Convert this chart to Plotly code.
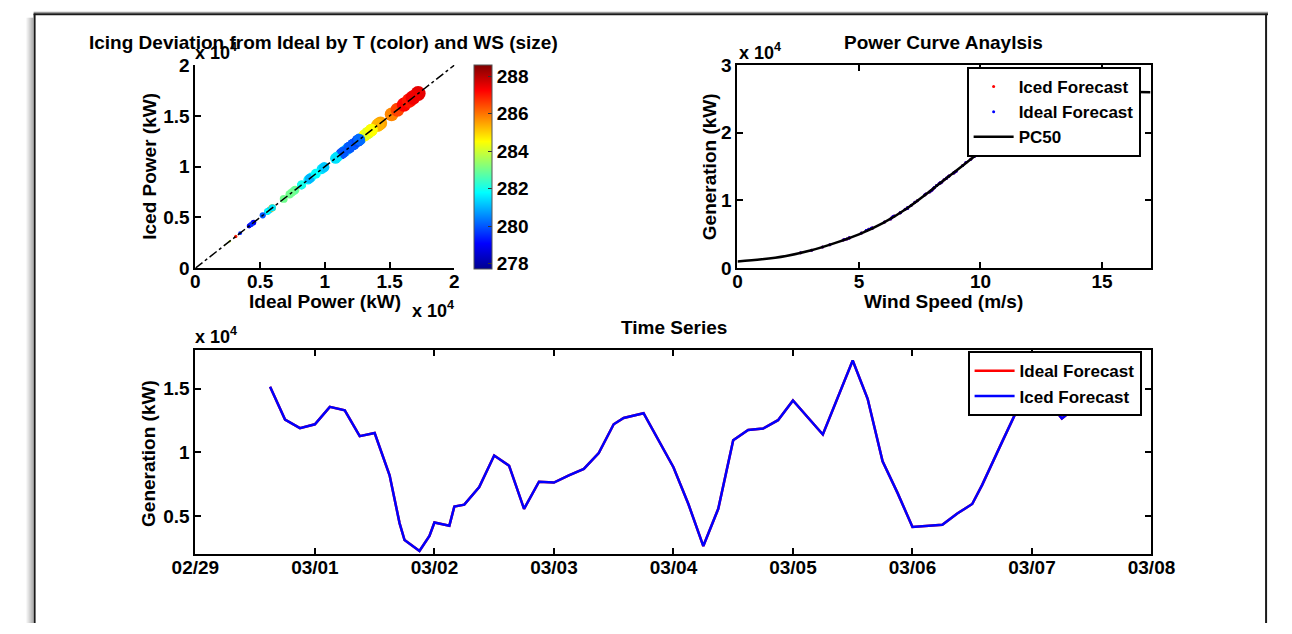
import numpy as np
import plotly.graph_objects as go

W, H = 1292, 634

# ---------------- data ----------------
ts_time = [
    "2016-02-29 15:00", "2016-02-29 18:00", "2016-02-29 21:00",
    "2016-03-01 00:00", "2016-03-01 03:00", "2016-03-01 06:00", "2016-03-01 09:00",
    "2016-03-01 12:00", "2016-03-01 15:00", "2016-03-01 17:00", "2016-03-01 18:00",
    "2016-03-01 21:00", "2016-03-01 23:00",
    "2016-03-02 00:00", "2016-03-02 03:00", "2016-03-02 04:00", "2016-03-02 06:00",
    "2016-03-02 09:00", "2016-03-02 12:00", "2016-03-02 15:00", "2016-03-02 18:00",
    "2016-03-02 21:00",
    "2016-03-03 00:00", "2016-03-03 03:00", "2016-03-03 06:00", "2016-03-03 09:00",
    "2016-03-03 12:00", "2016-03-03 14:00", "2016-03-03 18:00",
    "2016-03-04 00:00", "2016-03-04 03:00", "2016-03-04 06:00", "2016-03-04 09:00",
    "2016-03-04 12:00", "2016-03-04 15:00", "2016-03-04 18:00", "2016-03-04 21:00",
    "2016-03-05 00:00", "2016-03-05 06:00", "2016-03-05 12:00", "2016-03-05 15:00",
    "2016-03-05 18:00", "2016-03-05 21:00",
    "2016-03-06 00:00", "2016-03-06 06:00", "2016-03-06 09:00", "2016-03-06 12:00",
    "2016-03-06 14:00", "2016-03-06 18:00", "2016-03-06 21:00",
    "2016-03-07 00:00", "2016-03-07 03:00", "2016-03-07 06:00", "2016-03-07 09:00",
]
ts_iced = [
    15150, 12570, 11900,
    12200, 13570, 13300, 11270,
    11520, 8200, 4450, 3120,
    2270, 3450,
    4500, 4250, 5750, 5900,
    7280, 9750, 8950, 5570,
    7700,
    7630, 8200, 8700, 9950,
    12200, 12700, 13070,
    8830, 5950, 2650, 5570,
    10950, 11750, 11870, 12520,
    14070, 11400, 17200, 14200,
    9300, 6820,
    4150, 4320, 5200, 5950,
    7450, 10820, 13320,
    14300, 14100, 12650, 13600,
]
ts_ideal = list(ts_iced)  # ideal forecast coincides with the iced one

temp_K = [
    285.8, 280.0, 280.0,
    279.8, 284.3, 284.0, 279.5,
    281.0, 281.5, 279.0, 287.0,
    284.0, 279.5,
    279.0, 279.0, 281.5, 285.5,
    283.0, 281.5, 281.8, 280.5,
    283.2,
    282.8, 282.0, 281.6, 281.2,
    280.0, 280.3, 284.5,
    281.0, 285.0, 284.0, 281.8,
    281.5, 281.0, 280.0, 279.8,
    285.0, 280.0, 287.5, 285.5,
    281.8, 283.0,
    279.0, 279.5, 280.0, 281.5,
    283.0, 281.5, 284.2,
    285.5, 285.3, 280.2, 284.5,
]
wind_ms = [
    9.27, 8.35, 8.1,
    8.2, 8.7, 8.6, 7.9,
    8.0, 6.7, 4.6, 3.5,
    2.6, 3.8,
    4.6, 4.4, 5.4, 5.5,
    6.3, 7.3, 7.0, 5.3,
    6.45,
    6.4, 6.7, 6.9, 7.4,
    8.2, 8.4, 8.5,
    7.0, 5.55, 3.05, 5.3,
    7.75, 8.05, 8.1, 8.3,
    8.9, 7.95, 10.0, 8.95,
    7.15, 6.05,
    4.35, 4.5, 5.1, 5.55,
    6.35, 7.7, 8.6,
    9.0, 8.9, 8.35, 8.7,
]

# extra hourly points seen in the red cluster of the deviation scatter
extra_power = [15600, 16100, 16500, 16800]
extra_temp = [286.5, 287.2, 287.0, 287.4]
extra_wind = [9.4, 9.6, 9.75, 9.85]

# PC50 reference power curve
pc_ws = [0, 1, 2, 3, 4, 5, 6, 7, 8, 9, 10, 11, 12, 13, 14, 15, 16, 17]
pc_gen = [1000, 1300, 1800, 2600, 3700, 5000, 6700, 8900, 11600, 14400,
          17200, 19800, 22100, 23900, 25100, 25800, 26000, 26000]

temp_ticks = [278, 280, 282, 284, 286, 288]

# ---------------- derived collections ----------------
sc_ideal = ts_ideal + extra_power
sc_iced = ts_iced + extra_power
sc_temp = temp_K + extra_temp
sc_wind = wind_ms + extra_wind
sc_size = 1.8 * np.array(sc_wind) - 3.0

FONT = "Liberation Sans, Arial, Helvetica, sans-serif"
FS = 19
LFS = 17

jet = [[0.0, "#00008F"], [0.125, "#0000FF"], [0.375, "#00FFFF"],
       [0.625, "#FFFF00"], [0.875, "#FF0000"], [1.0, "#800000"]]


def fx(p):
    return p / W


def fy(p):
    return 1 - p / H


def bold(size):
    return dict(size=size, family=FONT, color="black", weight="bold")


fig = go.Figure()

# ---- deviation scatter ----
fig.add_trace(go.Scatter(
    x=sc_ideal, y=sc_iced, mode="markers", xaxis="x", yaxis="y",
    showlegend=False,
    marker=dict(size=sc_size, color=sc_temp, colorscale=jet,
                cmin=277.7, cmax=288.6, line=dict(width=0), opacity=1,
                colorbar=dict(
                    x=fx(467), xanchor="left", y=fy(57), yanchor="top",
                    len=211 / H, lenmode="fraction",
                    thickness=18, thicknessmode="pixels",
                    outlinecolor="#555", outlinewidth=1,
                    ticks="inside", ticklen=4, tickcolor="#333",
                    tickvals=temp_ticks, xpad=0, ypad=0,
                    tickfont=bold(FS),
                )),
))
fig.add_trace(go.Scatter(
    x=[0, 20000], y=[0, 20000], mode="lines", xaxis="x", yaxis="y",
    showlegend=False, line=dict(color="black", width=1.5, dash="dashdot"),
))

# ---- power curve ----
fig.add_trace(go.Scatter(
    x=sc_wind, y=sc_iced, mode="markers", xaxis="x2", yaxis="y2",
    name="Iced Forecast", legend="legend",
    marker=dict(color="#FF0000", size=3),
))
fig.add_trace(go.Scatter(
    x=sc_wind, y=sc_ideal, mode="markers", xaxis="x2", yaxis="y2",
    name="Ideal Forecast", legend="legend",
    marker=dict(color="#0000FF", size=3),
))
fig.add_trace(go.Scatter(
    x=pc_ws, y=pc_gen, mode="lines", xaxis="x2", yaxis="y2",
    name="PC50", legend="legend", line=dict(color="black", width=2.5, shape="spline"),
))

# ---- time series ----
fig.add_trace(go.Scatter(
    x=ts_time, y=ts_ideal, mode="lines", xaxis="x3", yaxis="y3",
    name="Ideal Forecast", legend="legend2", line=dict(color="#FF0000", width=2.5),
))
fig.add_trace(go.Scatter(
    x=ts_time, y=ts_iced, mode="lines", xaxis="x3", yaxis="y3",
    name="Iced Forecast", legend="legend2", line=dict(color="#0000FF", width=2.5),
))

axis_common = dict(
    showline=True, linecolor="black", linewidth=2, ticks="inside", ticklen=6,
    tickwidth=1.5, tickcolor="black", showgrid=False, zeroline=False,
    tickfont=bold(FS),
)
xstand = dict(ticklabelstandoff=-5)

fig.update_layout(
    autosize=True, margin=dict(l=0, r=0, t=0, b=0),
    paper_bgcolor="white", plot_bgcolor="white",
    font=bold(FS),
    xaxis=dict(domain=[fx(178), fx(447)], range=[0, 20000], anchor="y",
               tickvals=[0, 5000, 10000, 15000, 20000],
               ticktext=["0", "0.5", "1", "1.5", "2"], **axis_common, **xstand),
    yaxis=dict(domain=[fy(267), fy(57)], range=[0, 20000], anchor="x",
               tickvals=[0, 5000, 10000, 15000, 20000],
               ticktext=["0", "0.5", "1", "1.5", "2"], **axis_common),
    xaxis2=dict(domain=[fx(741), fx(1170)], range=[0, 17], anchor="y2",
                tickvals=[0, 5, 10, 15], mirror="ticks", **axis_common, **xstand),
    yaxis2=dict(domain=[fy(267), fy(57)], range=[0, 30000], anchor="x2",
                tickvals=[0, 10000, 20000, 30000], ticktext=["0", "1", "2", "3"],
                mirror="ticks", **axis_common),
    xaxis3=dict(domain=[fx(178), fx(1171)], anchor="y3", type="date",
                range=["2016-02-29", "2016-03-08"], tick0="2016-02-29",
                dtick=86400000, tickformat="%m/%d", mirror="ticks",
                **axis_common, **xstand),
    yaxis3=dict(domain=[fy(563), fy(352)], range=[2000, 18000], anchor="x3",
                tickvals=[5000, 10000, 15000], ticktext=["0.5", "1", "1.5"],
                mirror="ticks", **axis_common),
    legend=dict(x=fx(979), y=fy(59), xanchor="left", yanchor="top",
                bgcolor="white", bordercolor="black", borderwidth=2,
                font=bold(LFS), itemwidth=40, tracegroupgap=0),
    legend2=dict(x=fx(980), y=fy(353), xanchor="left", yanchor="top",
                 bgcolor="white", bordercolor="black", borderwidth=2,
                 font=bold(LFS), itemwidth=40, tracegroupgap=0),
)


def ann(text, x, y, xanchor="center", yanchor="middle", angle=0, size=FS):
    fig.add_annotation(text=text, x=fx(x), y=fy(y), xref="paper", yref="paper",
                       xanchor=xanchor, yanchor=yanchor, textangle=angle,
                       showarrow=False, font=bold(size))


# multipliers first (titles overlap them)
ann("x 10<sup>4</sup>", 176, 43, xanchor="left", size=18)
ann("x 10<sup>4</sup>", 401, 310, xanchor="left", size=18)
ann("x 10<sup>4</sup>", 741, 43, xanchor="left", size=18)
ann("x 10<sup>4</sup>", 176, 337, xanchor="left", size=18)

ann("Icing Deviation from Ideal by T (color) and WS (size)", 311, 34)
ann("Power Curve Anaylsis", 955, 34)
ann("Time Series", 675, 328)

ann("Ideal Power (kW)", 313, 302)
ann("Iced Power (kW)", 131, 162, angle=-90)
ann("Wind Speed (m/s)", 955, 302)
ann("Generation (kW)", 712, 162, angle=-90)
ann("Generation (kW)", 130, 459, angle=-90)

# window frame: shadow on the left, grey + black top edge, black side edges
shapes = []
for i, c in enumerate(["#f2f2f2", "#e6e6e6", "#d9d9d9", "#cccccc", "#c0c0c0",
                       "#b4b4b4", "#aaaaaa"]):
    shapes.append(dict(type="line", xref="paper", yref="paper",
                       x0=fx(3 + i), x1=fx(3 + i), y0=fy(8), y1=0,
                       line=dict(color=c, width=1)))
shapes.append(dict(type="line", xref="paper", yref="paper",
                   x0=fx(10), x1=1, y0=fy(2.5), y1=fy(2.5),
                   line=dict(color="#9a9a9a", width=1.5)))
shapes.append(dict(type="line", xref="paper", yref="paper",
                   x0=fx(10), x1=1, y0=fy(4.5), y1=fy(4.5),
                   line=dict(color="#1a1a1a", width=2)))
shapes.append(dict(type="line", xref="paper", yref="paper",
                   x0=fx(11), x1=fx(11), y0=fy(4), y1=0,
                   line=dict(color="#1a1a1a", width=2)))
shapes.append(dict(type="line", xref="paper", yref="paper",
                   x0=fx(1290), x1=fx(1290), y0=fy(4), y1=0,
                   line=dict(color="#1a1a1a", width=2)))
fig.update_layout(shapes=shapes)

fig.write_html(
    "out.html",
    config={"displayModeBar": False, "responsive": True},
    default_width="100vw", default_height="100vh",
    post_script="document.body.style.margin='0';document.body.style.overflow='hidden';"
                "Plotly.Plots.resize(document.getElementsByClassName('plotly-graph-div')[0]);",
)
